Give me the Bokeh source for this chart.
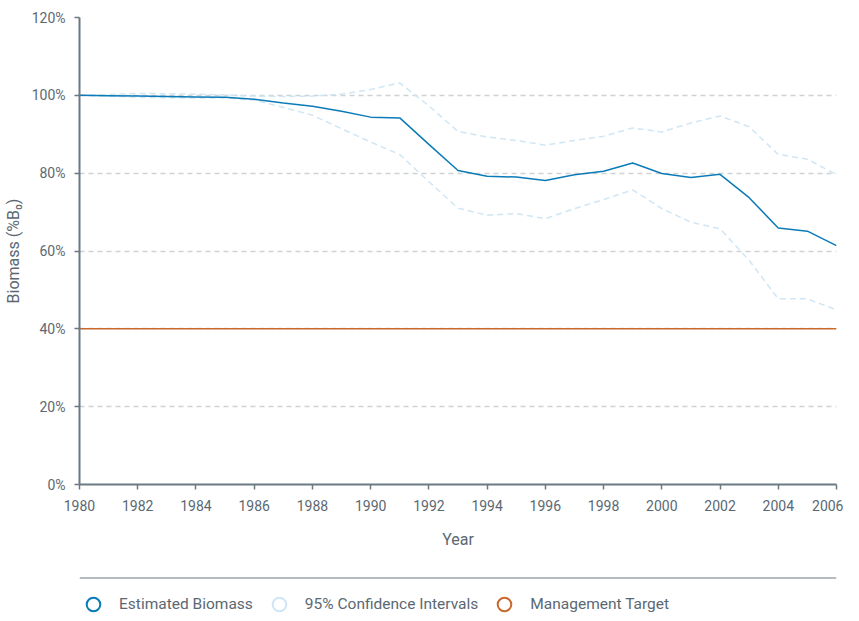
from bokeh.plotting import figure
from bokeh.models import (ColumnDataSource, Range1d, FixedTicker, PrintfTickFormatter,
                          Legend, LegendItem, Span)
from bokeh.layouts import column
from bokeh.embed import file_html
from bokeh.resources import INLINE

years = list(range(1980, 2007))
estimated = [100.0, 99.9, 99.8, 99.7, 99.6, 99.5, 99.0, 98.0, 97.2, 95.9, 94.4, 94.2,
             87.4, 80.7, 79.2, 79.0, 78.1, 79.6, 80.5, 82.6, 79.9, 78.9, 79.7, 73.7,
             65.9, 65.1, 61.4]
ci_upper = [100.0, 100.2, 100.5, 100.4, 100.3, 100.1, 99.8, 99.7, 99.8, 100.3, 101.5, 103.2,
            97.3, 90.7, 89.3, 88.4, 87.2, 88.4, 89.5, 91.6, 90.6, 92.9, 94.7, 91.9,
            84.8, 83.6, 79.6]
ci_lower = [100.0, 99.8, 99.5, 99.4, 99.3, 99.3, 98.8, 96.9, 94.9, 91.4, 88.0, 84.8,
            77.8, 71.0, 69.2, 69.6, 68.3, 70.9, 73.2, 75.7, 70.9, 67.4, 65.7, 57.6,
            47.7, 47.7, 44.9]
target_years = [1980, 2006]
target = [40, 40]
x_ticks = list(range(1980, 2007, 2))
y_ticks = [0, 20, 40, 60, 80, 100, 120]
legend_labels = ["Estimated Biomass", "95% Confidence Intervals", "Management Target"]

C_EST = "#0b7bb8"
C_CI = "#cfe6f4"
C_TGT = "#c96a2c"
C_AXIS = "#6b7983"
C_TEXT = "#5b6872"
C_GRID = "#cfd1d3"
FONT = "Roboto"

p = figure(width=843, height=560, output_backend="svg", toolbar_location=None,
           x_range=Range1d(1980, 2006), y_range=Range1d(0, 120),
           min_border_left=70, min_border_right=7, min_border_top=17, min_border_bottom=76)
p.outline_line_color = None
p.xgrid.grid_line_color = None
p.ygrid.grid_line_color = C_GRID
p.ygrid.grid_line_dash = "5 4"
p.ygrid.grid_line_width = 1.5
p.ygrid.ticker = FixedTicker(ticks=y_ticks)

src = ColumnDataSource(dict(year=years, est=estimated, up=ci_upper, lo=ci_lower))
p.line("year", "up", source=src, line_color=C_CI, line_width=1.5, line_dash="6 4")
p.line("year", "lo", source=src, line_color=C_CI, line_width=1.5, line_dash="6 4")
p.line(target_years, target, line_color=C_TGT, line_width=1.5)
p.line("year", "est", source=src, line_color=C_EST, line_width=1.5)

for ax in (p.xaxis[0], p.yaxis[0]):
    ax.axis_line_color = C_AXIS
    ax.axis_line_width = 2
    ax.major_tick_line_color = C_AXIS
    ax.major_tick_line_width = 1.5
    ax.major_tick_out = 5
    ax.major_tick_in = 0
    ax.minor_tick_line_color = None
    ax.major_label_text_font = FONT
    ax.major_label_text_font_size = "14px"
    ax.major_label_text_color = C_TEXT
    ax.axis_label_text_font = FONT
    ax.axis_label_text_font_size = "16px"
    ax.axis_label_text_font_style = "normal"
    ax.axis_label_text_color = C_TEXT

p.xaxis.ticker = FixedTicker(ticks=x_ticks)
p.xaxis.axis_label = "Year"
p.xaxis.major_label_standoff = 10
p.xaxis.axis_label_standoff = 16
p.yaxis.ticker = FixedTicker(ticks=y_ticks)
p.yaxis.formatter = PrintfTickFormatter(format="%d%%")
p.yaxis.axis_label = "Biomass (%B\u2080)"
p.yaxis.major_label_standoff = 9
p.yaxis.axis_label_standoff = 6

# legend panel
p2 = figure(width=843, height=58, output_backend="svg", toolbar_location=None,
            x_range=Range1d(0, 1), y_range=Range1d(0, 1),
            x_axis_type=None, y_axis_type=None,
            min_border_left=74, min_border_right=0, min_border_top=17, min_border_bottom=0)
p2.outline_line_color = None
p2.xgrid.grid_line_color = None
p2.ygrid.grid_line_color = None
p2.add_layout(Span(location=1, dimension="width", line_color=C_AXIS, line_width=2))

nan = float("nan")
items = []
for lab, col in zip(legend_labels, [C_EST, C_CI, C_TGT]):
    r = p2.scatter(x=[nan], y=[nan], marker="circle", size=12, fill_color="white",
                   line_color=col, line_width=2)
    items.append(LegendItem(label=lab, renderers=[r]))
leg = Legend(items=items, orientation="horizontal", location=(-3, -3),
             glyph_width=34, glyph_height=34, label_standoff=9, spacing=9,
             padding=0, margin=0, background_fill_alpha=0, border_line_color=None,
             label_text_font=FONT, label_text_font_size="15.5px",
             label_text_color=C_TEXT)
p2.add_layout(leg)

layout = column(p, p2, spacing=0)
open("out.html", "w").write(file_html(layout, INLINE))
